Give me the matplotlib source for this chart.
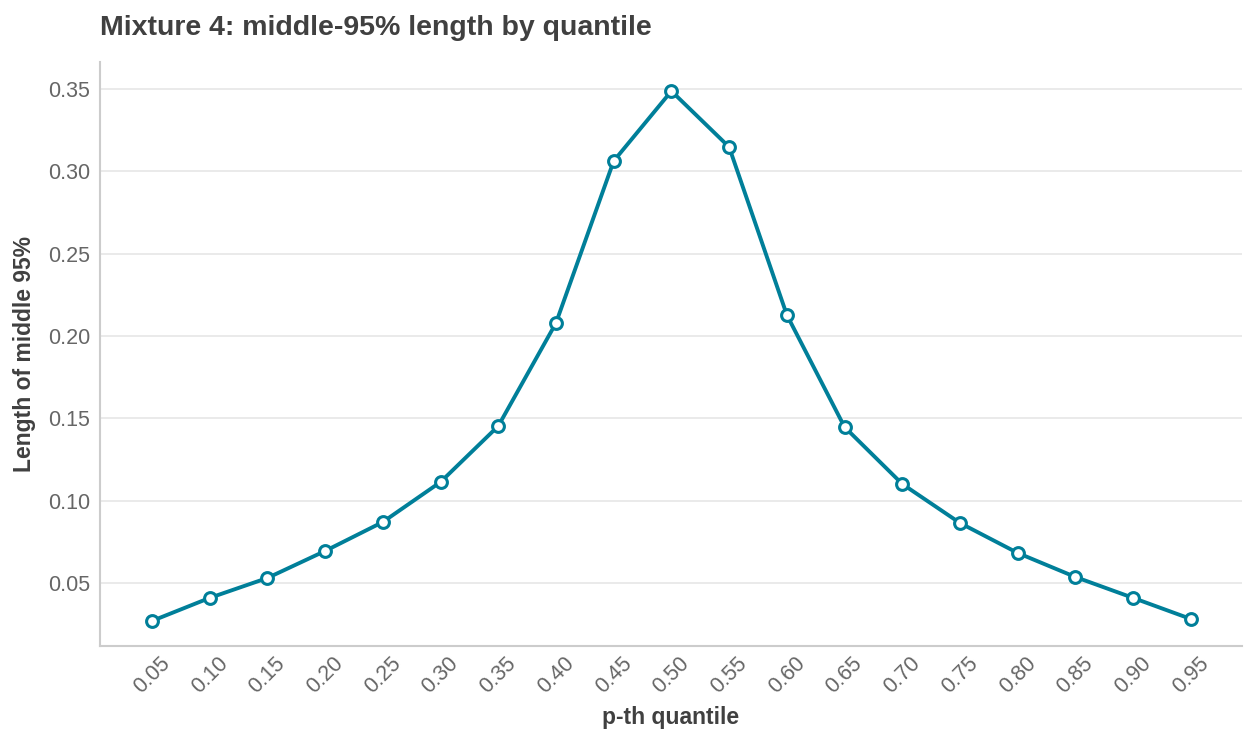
import matplotlib
matplotlib.use('Agg')
import matplotlib.pyplot as plt
import numpy as np

plt.rcParams['font.family'] = ['Liberation Sans', 'DejaVu Sans']

quantiles = ['0.05', '0.10', '0.15', '0.20', '0.25', '0.30', '0.35', '0.40', '0.45', '0.50',
             '0.55', '0.60', '0.65', '0.70', '0.75', '0.80', '0.85', '0.90', '0.95']
lengths = [0.0269, 0.0409, 0.0530, 0.0694, 0.0870, 0.1113, 0.1453, 0.2079, 0.3063, 0.3488,
           0.3148, 0.2128, 0.1447, 0.1101, 0.0864, 0.0682, 0.0536, 0.0409, 0.0281]

color = '#007f99'

fig = plt.figure(figsize=(12.58, 7.48), dpi=100)
ax = fig.add_axes([0.0795, 0.1364, 0.9075, 0.7806])

x = np.arange(len(quantiles))
ax.plot(x, lengths, color=color, lw=2.8, marker='o', markersize=8.5,
        markerfacecolor='white', markeredgecolor=color, markeredgewidth=2.2, zorder=3)

ax.set_xlim(-0.9, len(quantiles) - 1 + 0.88)
ax.set_ylim(0.0117, 0.3664)
ax.set_xticks(x)
ax.set_xticklabels(quantiles, rotation=45, ha='center')
yt = [0.05, 0.10, 0.15, 0.20, 0.25, 0.30, 0.35]
ax.set_yticks(yt)
ax.set_yticklabels(['%.2f' % v for v in yt])
ax.tick_params(length=0, labelsize=15.5, labelcolor='#666666')
ax.tick_params(axis='x', pad=5)
ax.tick_params(axis='y', pad=7)

ax.grid(axis='y', color='#e6e6e6', lw=1.2)
ax.set_axisbelow(True)
for s in ['top', 'right']:
    ax.spines[s].set_visible(False)
for s in ['left', 'bottom']:
    ax.spines[s].set_color('#cccccc')
    ax.spines[s].set_linewidth(1.5)

ax.set_xlabel('p-th quantile', fontsize=16.5, color='#404040', fontweight='bold', labelpad=6)
ax.set_ylabel('Length of middle 95%', fontsize=16.5, color='#404040', fontweight='bold', labelpad=9)
fig.text(0.0795, 0.962, 'Mixture 4: middle-95% length by quantile', fontsize=20.5,
         fontweight='bold', color='#404040', ha='left', va='center')

fig.savefig('out.png', dpi=100)
plt.close()
